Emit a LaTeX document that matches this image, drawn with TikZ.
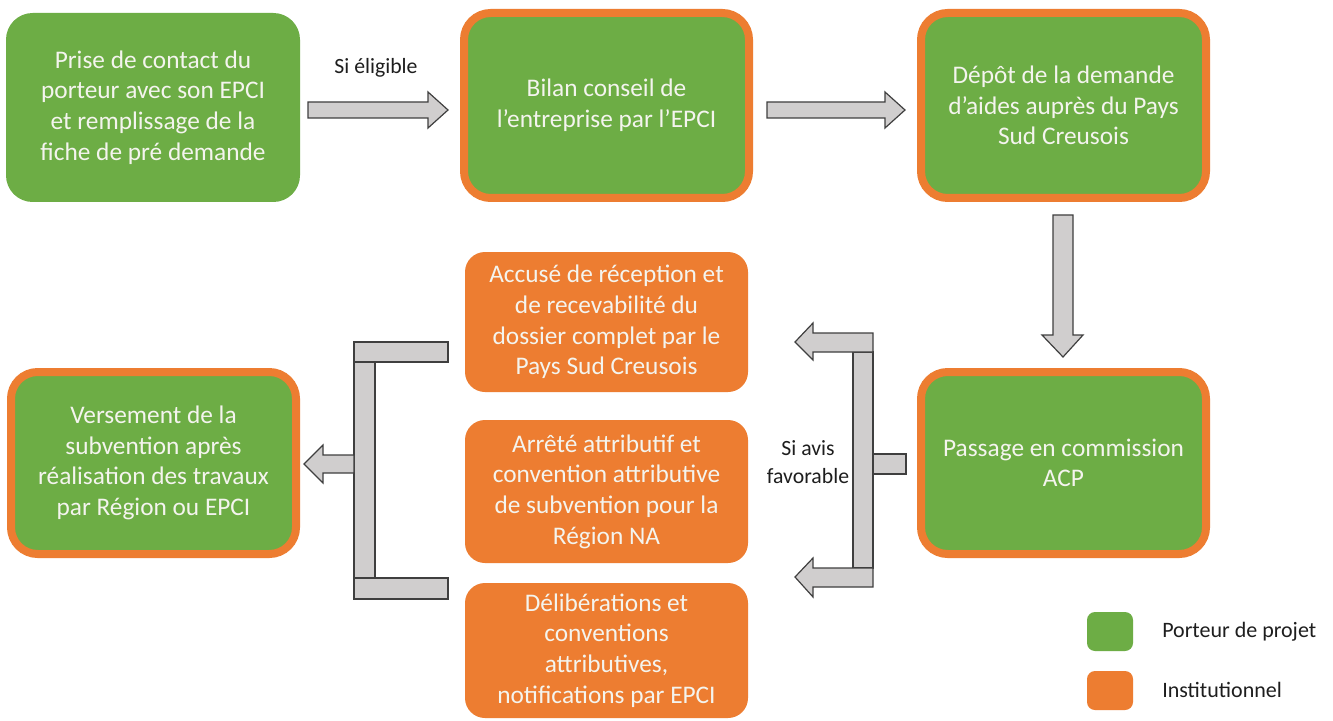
\documentclass[tikz,border=0pt]{standalone}
\usepackage{fontspec}
\setmainfont{Carlito}
\definecolor{vertP}{HTML}{6DAD45}
\definecolor{orangeI}{HTML}{ED7D31}
\definecolor{grisF}{HTML}{D0CECE}
\definecolor{grisL}{HTML}{3F3F3F}
\definecolor{texteB}{HTML}{F4F4EE}
\definecolor{texteN}{HTML}{1E1E1E}
\tikzset{
  boxtext/.style={text=texteB, align=center, inner sep=0pt, font=\fontsize{19}{23}\selectfont},
  greenbox/.style={boxtext, fill=vertP, rounded corners=20pt},
  borderbox/.style={greenbox, draw=orangeI, line width=6pt},
  instbox/.style={boxtext, fill=orangeI, rounded corners=15pt, minimum width=212.25pt},
  blockarrow/.style={fill=grisF, draw=grisL, line width=0.9pt, line join=miter},
  lbl/.style={text=texteN, align=center, inner sep=0pt, font=\fontsize{16.3}{21}\selectfont},
  legbox/.style={rounded corners=6pt, minimum width=34.5pt, minimum height=29.25pt, inner sep=0pt},
  legtext/.style={text=texteN, anchor=west, inner sep=0pt, font=\fontsize{16.5}{21}\selectfont}
}
\begin{document}
\begin{tikzpicture}[x=0.75pt,y=-0.75pt]
\useasboundingbox (0,0) rectangle (1333,720);
\fill[white] (0,0) rectangle (1333,720);

% boxes
\node[greenbox, minimum width=220.5pt, minimum height=141.75pt] (b1) at (153,107.5)
  {Prise de contact du\\porteur avec son EPCI\\et remplissage de la\\fiche de pré demande};
\node[borderbox, minimum width=213.75pt, minimum height=138.75pt] (b2) at (606.5,105.5)
  {Bilan conseil de\\l’entreprise par l’EPCI};
\node[borderbox, minimum width=213.75pt, minimum height=138.75pt] (b3) at (1063.5,105.5)
  {Dépôt de la demande\\d’aides auprès du Pays\\Sud Creusois};
\node[borderbox, minimum width=213.75pt, minimum height=136.5pt] (b4) at (1063.5,463)
  {Passage en commission\\ACP};
\node[borderbox, minimum width=213.75pt, minimum height=136.5pt] (b8) at (153.5,463)
  {Versement de la\\subvention après\\réalisation des travaux\\par Région ou EPCI};
\node[instbox, minimum height=105pt] (b5) at (606.5,322)
  {Accusé de réception et\\de recevabilité du\\dossier complet par le\\Pays Sud Creusois};
\node[instbox, minimum height=107.25pt] (b6) at (606.5,491.5)
  {Arrêté attributif et\\convention attributive\\de subvention pour la\\Région NA};
\node[instbox, minimum height=101.25pt] (b7) at (606.5,650.5)
  {Délibérations et\\conventions\\attributives,\\notifications par EPCI};

% block arrows top row
\draw[blockarrow] (308,102) -- (428,102) -- (428,92) -- (448,110) -- (428,128) -- (428,118) -- (308,118) -- cycle;
\draw[blockarrow] (767,102) -- (885,102) -- (885,92) -- (905,110) -- (885,128) -- (885,118) -- (767,118) -- cycle;
% down arrow
\draw[blockarrow] (1053,215) -- (1073,215) -- (1073,335) -- (1083,335) -- (1063,357) -- (1042,335) -- (1053,335) -- cycle;

% right bracket
\draw[blockarrow] (873,454) rectangle (906,474);
\draw[blockarrow] (853,352) rectangle (873,568);
\draw[blockarrow] (873,333) -- (873,352) -- (813,352) -- (813,360) -- (795,342) -- (813,323) -- (813,333) -- cycle;
\draw[blockarrow] (873,568) -- (873,587) -- (813,587) -- (813,597) -- (795,577) -- (813,558) -- (813,568) -- cycle;

% left bracket
\draw[blockarrow] (354,342) rectangle (448,362);
\draw[blockarrow] (354,578) rectangle (448,599);
\draw[blockarrow] (354,362) rectangle (375,578);
\draw[blockarrow] (354,455) -- (354,473) -- (323,473) -- (323,483) -- (304,464) -- (323,445) -- (323,455) -- cycle;

% labels
\node[lbl] (l1) at (376,68) {Si éligible};
\node[lbl] (l2) at (808,462) {Si avis\\favorable};

% legend
\node[legbox, fill=vertP] (lg1) at (1110,631.5) {};
\node[legbox, fill=orangeI] (lg2) at (1110,690.5) {};
\node[legtext] (lt1) at (1162,632) {Porteur de projet};
\node[legtext] (lt2) at (1162,690) {Institutionnel};
\end{tikzpicture}
\end{document}
